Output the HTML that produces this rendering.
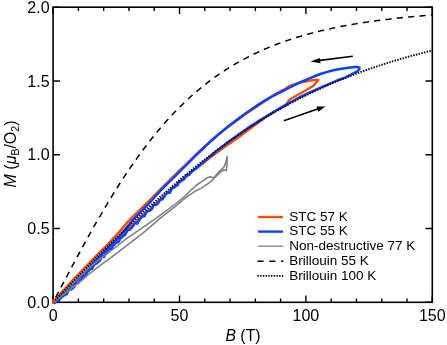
<!DOCTYPE html>
<html><head><meta charset="utf-8"><style>
html,body{margin:0;padding:0;background:#fff;}
svg{display:block}
text{font-family:"Liberation Sans",sans-serif;font-size:16px;fill:#000}
svg{will-change:transform;opacity:0.999}
.lg text{font-size:13.5px}
</style></head><body>
<svg width="447" height="345" viewBox="0 0 447 345">
<rect width="447" height="345" fill="#fff"/>
<g stroke="#000" stroke-width="1.6" fill="none">
<rect x="53.1" y="7.2" width="379.2" height="295.1"/>
</g>
<g stroke="#000" stroke-width="1.4" fill="none">
<path d="M53.10,302.30v-6.8M53.10,7.20v6.8"/><path d="M78.38,302.30v-3.8M78.38,7.20v3.8"/><path d="M103.66,302.30v-3.8M103.66,7.20v3.8"/><path d="M128.94,302.30v-3.8M128.94,7.20v3.8"/><path d="M154.22,302.30v-3.8M154.22,7.20v3.8"/><path d="M179.50,302.30v-6.8M179.50,7.20v6.8"/><path d="M204.78,302.30v-3.8M204.78,7.20v3.8"/><path d="M230.06,302.30v-3.8M230.06,7.20v3.8"/><path d="M255.34,302.30v-3.8M255.34,7.20v3.8"/><path d="M280.62,302.30v-3.8M280.62,7.20v3.8"/><path d="M305.90,302.30v-6.8M305.90,7.20v6.8"/><path d="M331.18,302.30v-3.8M331.18,7.20v3.8"/><path d="M356.46,302.30v-3.8M356.46,7.20v3.8"/><path d="M381.74,302.30v-3.8M381.74,7.20v3.8"/><path d="M407.02,302.30v-3.8M407.02,7.20v3.8"/><path d="M432.30,302.30v-6.8M432.30,7.20v6.8"/><path d="M53.10,302.30h6.8M432.30,302.30h-6.8"/><path d="M53.10,228.53h6.8M432.30,228.53h-6.8"/><path d="M53.10,154.75h6.8M432.30,154.75h-6.8"/><path d="M53.10,80.97h6.8M432.30,80.97h-6.8"/><path d="M53.10,7.20h6.8M432.30,7.20h-6.8"/>
</g>
<g fill="none" stroke-linejoin="round" stroke-linecap="round">
<path d="M53.1,302.3 L53.8,301.4 L54.9,300.2 L56.0,298.9 L57.0,297.8 L58.0,296.6 L59.0,295.5 L60.0,294.3 L61.0,293.2 L62.0,292.0 L63.0,290.9 L64.0,289.8 L65.0,288.8 L66.0,287.7 L67.0,286.6 L68.0,285.5 L69.0,284.4 L70.0,283.3 L71.0,282.2 L72.0,281.2 L73.0,280.1 L74.0,279.0 L75.0,277.9 L76.0,276.9 L77.0,275.8 L78.0,274.8 L79.0,273.7 L80.0,272.7 L81.0,271.6 L82.0,270.6 L83.0,269.6 L84.0,268.5 L85.0,267.5 L86.0,266.5 L87.0,265.4 L88.0,264.4 L89.0,263.3 L90.0,262.3 L91.0,261.3 L92.0,260.3 L93.0,259.2 L94.0,258.2 L95.0,257.2 L96.0,256.2 L97.0,255.1 L98.0,254.1 L99.0,253.1 L100.0,252.1 L101.0,251.1 L102.0,250.1 L103.0,249.1 L104.0,248.1 L105.0,247.1 L106.0,246.1 L107.0,245.1 L108.0,244.1 L109.0,243.0 L110.0,241.9 L111.0,240.8 L112.0,239.8 L113.0,238.7 L114.0,237.6 L115.0,236.6 L116.0,235.5 L117.0,234.3 L118.0,233.2 L119.0,232.1 L120.0,230.9 L121.0,229.8 L122.0,228.6 L123.0,227.5 L124.0,226.3 L125.0,225.1 L125.7,224.3 L126.3,223.5 L128.0,221.7 L131.3,218.4 L135.5,214.2 L140.0,209.8 L144.7,205.2 L149.6,200.4 L153.8,196.2 L156.8,193.2 L159.1,190.9 L161.5,188.5 L164.0,186.0 L166.6,183.4 L170.0,180.0 L174.9,175.2 L180.5,169.7 L186.0,164.4 L190.7,159.8 L195.1,155.5 L199.9,150.9 L205.5,145.7 L211.5,140.4 L217.0,135.6 L221.6,131.9 L225.7,128.8 L230.0,125.6 L234.7,122.1 L239.6,118.4 L245.0,114.5 L251.6,109.9 L258.7,105.1 L264.8,101.0 L268.9,98.2 L272.0,96.3 L275.0,94.4 L278.5,92.4 L282.0,90.6 L285.0,89.0 L286.9,87.8 L288.1,86.9 L290.0,86.0 L293.0,84.8 L296.6,83.6 L300.0,82.6 L302.9,81.9 L305.6,81.4 L308.0,81.0 L310.2,80.6 L312.2,80.2 L314.0,80.0 L315.7,80.0 L317.2,80.0 L318.2,80.1" stroke="#ff4c00" stroke-width="2.5"/>
<path d="M318.2,80.1 L317.7,80.8 L316.9,81.7 L316.0,82.8 L315.2,83.8 L314.3,84.9 L312.6,86.3 L309.7,88.1 L306.0,90.2 L302.5,92.2 L299.4,93.9 L296.5,95.6 L294.0,97.0 L292.0,98.1 L290.5,99.1 L289.0,100.3 L287.6,102.1 L286.2,104.1 L285.0,105.7 L283.9,106.5 L283.0,106.9 L282.0,107.4 L281.0,107.9 L280.0,108.5 L279.0,109.1 L278.0,109.7 L277.0,110.3 L276.0,110.9 L275.0,111.5 L274.0,112.1 L273.0,112.7 L272.0,113.3 L271.0,113.9 L270.0,114.5 L269.0,115.1 L268.0,115.7 L267.0,116.3 L266.0,116.9 L265.0,117.6 L264.0,118.3 L263.0,119.0 L262.0,119.8 L261.0,120.5 L260.0,121.3 L259.0,122.0 L258.0,122.8 L257.0,123.5 L256.0,124.3 L255.0,125.0 L254.0,125.8 L253.0,126.5 L252.0,127.2 L251.0,128.0 L250.0,128.7 L249.0,129.5 L248.0,130.2 L247.0,131.0 L246.0,131.7 L245.0,132.5 L244.0,133.2 L243.0,134.0 L242.0,134.7 L241.0,135.5 L240.0,136.3 L239.0,137.0 L238.0,137.6 L237.0,138.3 L236.0,139.0 L235.0,139.7 L234.0,140.4 L233.0,141.1 L232.0,141.8 L231.0,142.5 L230.0,143.2 L229.0,143.9 L228.0,144.6 L227.0,145.3 L226.0,146.0 L225.0,146.7 L224.0,147.4 L223.0,148.2 L222.0,148.9 L221.0,149.6 L220.0,150.4 L219.0,151.1 L218.0,151.8 L217.0,152.6 L216.0,153.3 L215.0,154.1 L214.0,154.8 L213.0,155.6 L212.0,156.3 L211.0,157.1 L210.0,157.8 L209.0,158.6 L208.0,159.4 L207.0,160.1 L206.0,160.9 L205.0,161.7 L204.0,162.5 L203.0,163.3 L202.0,164.0 L201.0,164.8 L200.0,165.6 L199.0,166.4 L198.0,167.1 L197.0,167.9 L196.0,168.6 L195.0,169.4 L194.0,170.2 L193.0,170.9 L192.0,171.7 L191.0,172.5 L190.0,173.3 L189.0,174.1 L188.0,174.8 L187.0,175.6 L186.0,176.4 L185.0,177.2 L184.0,178.1 L183.0,178.9 L182.0,179.8 L181.0,180.7 L180.0,181.5 L179.0,182.4 L178.0,183.3 L177.0,184.2 L176.0,185.0 L175.0,185.9 L174.0,186.8 L173.0,187.7 L172.0,188.6 L171.0,189.5 L170.0,190.4 L169.0,191.3 L168.0,192.2 L167.0,193.1 L166.0,194.0 L165.0,194.9 L164.0,195.8 L163.0,196.7 L162.0,197.6 L161.0,198.6 L160.0,199.5 L159.0,200.4 L158.0,201.3 L157.0,202.3 L156.0,203.2 L155.0,204.1 L154.0,205.1 L153.0,206.0 L152.0,206.9 L151.0,207.9 L150.0,208.8 L149.0,209.7 L148.0,210.6 L147.0,211.5 L146.0,212.5 L145.0,213.4 L144.0,214.3 L143.0,215.2 L142.0,216.1 L141.0,217.0 L140.0,218.0 L139.0,218.9 L138.0,219.8 L137.0,220.7 L136.0,221.7 L135.0,222.6 L134.0,223.5 L133.0,224.5 L132.0,225.4 L131.0,226.4 L130.0,227.3 L129.0,228.2 L128.0,229.2 L127.0,230.1 L126.0,231.1 L125.0,232.0 L124.0,233.0 L123.0,234.0 L122.0,234.9 L121.0,235.9 L120.0,236.8 L119.0,237.8 L118.0,238.8 L117.0,239.7 L116.0,240.7 L115.0,241.7 L114.0,242.7 L113.0,243.6 L112.0,244.6 L111.0,245.6 L110.0,246.6 L109.0,247.6 L108.0,248.5 L107.0,249.5 L106.0,250.5 L105.0,251.5 L104.0,252.5 L103.0,253.5 L102.0,254.5 L101.0,255.5 L100.0,256.5 L99.0,257.5 L98.0,258.5 L97.0,259.4 L96.0,260.5 L95.0,261.5 L94.0,262.5 L93.0,263.5 L92.0,264.5 L91.0,265.5 L90.0,266.6 L89.0,267.6 L88.0,268.6 L87.0,269.6 L86.0,270.7 L85.0,271.7 L84.0,272.7 L83.0,273.7 L82.0,274.8 L81.0,275.8 L80.0,276.8 L79.0,277.9 L78.0,278.9 L77.0,279.9 L76.0,281.0 L75.0,282.0 L74.0,283.0 L73.0,284.1 L72.0,285.1 L71.0,286.2 L70.0,287.2 L69.0,288.2 L68.0,289.3 L67.0,290.3 L66.0,291.4 L65.0,292.3 L64.0,293.2 L63.0,294.1 L62.0,294.9 L61.0,295.7 L60.0,296.6 L59.0,297.4 L58.1,298.2 L57.0,299.1 L55.6,300.2 L54.1,301.4 L53.1,302.3" stroke="#ff4c00" stroke-width="2.3"/>
<path d="M53.1,302.3 L53.8,301.9 L54.9,301.3 L56.0,300.6 L57.0,299.8 L58.0,298.9 L59.0,298.0 L60.0,297.0 L61.0,296.0 L62.0,295.0 L63.0,294.1 L64.0,293.1 L65.0,292.1 L66.0,291.1 L67.0,290.1 L68.0,289.1 L69.0,288.1 L70.0,287.1 L71.0,286.1 L72.0,285.1 L73.0,284.1 L74.0,283.1 L75.0,282.1 L76.0,281.1 L77.0,280.1 L78.0,279.1 L79.0,278.0 L80.0,277.0 L81.0,276.0 L82.0,275.0 L83.0,274.0 L84.0,273.0 L85.0,271.9 L86.0,270.9 L87.0,269.9 L88.0,268.9 L89.0,267.8 L90.0,266.8 L91.0,265.7 L92.0,264.6 L93.0,263.6 L94.0,262.5 L95.0,261.5 L96.0,260.4 L97.0,259.4 L98.0,258.3 L99.0,257.3 L100.0,256.3 L101.0,255.2 L102.0,254.2 L103.0,253.1 L104.0,252.1 L105.0,251.0 L106.0,250.0 L107.0,249.0 L108.0,247.9 L109.0,246.9 L110.0,245.9 L111.0,244.8 L112.0,243.8 L113.0,242.8 L114.0,241.7 L115.0,240.7 L116.0,239.7 L117.0,238.6 L118.0,237.6 L119.0,236.6 L120.0,235.5 L121.0,234.4 L122.0,233.2 L123.0,232.1 L124.0,230.9 L125.0,229.7 L126.0,228.5 L127.0,227.2 L128.0,225.9 L129.0,224.7 L130.0,223.4 L131.0,222.2 L132.0,221.0 L133.0,219.9 L134.0,218.8 L135.0,217.7 L136.0,216.7 L137.0,215.6 L138.0,214.6 L139.0,213.6 L140.0,212.6 L141.0,211.5 L142.0,210.5 L143.0,209.5 L144.0,208.5 L145.0,207.5 L146.0,206.5 L146.7,205.9 L147.4,205.2 L149.0,203.5 L152.1,200.0 L156.1,195.5 L160.0,191.2 L163.2,187.9 L166.3,184.9 L170.0,181.2 L175.0,176.3 L180.6,170.7 L186.0,165.3 L190.7,160.6 L195.1,156.2 L199.9,151.5 L205.5,146.2 L211.5,140.7 L217.0,135.8 L221.6,131.9 L225.7,128.4 L230.0,125.0 L234.7,121.4 L239.6,117.7 L245.0,113.8 L251.2,109.5 L258.0,104.9 L264.8,100.6 L271.7,96.7 L278.6,93.1 L285.0,89.8 L290.3,87.1 L295.0,84.8 L300.0,82.5 L305.8,79.9 L311.9,77.3 L317.6,75.0 L322.7,73.3 L327.4,71.9 L331.4,70.8 L334.1,70.1 L336.1,69.7 L338.8,69.2 L343.3,68.5 L348.5,67.8 L352.6,67.3 L354.8,67.0 L356.0,67.0 L357.0,67.0 L358.0,67.2 L358.8,67.6 L359.3,67.8" stroke="#0a40ff" stroke-width="2.5"/>
<path d="M359.3,67.8 L359.2,69.6 L357.0,71.5 L353.8,73.2 L345.0,77.6 L337.5,80.3 L327.5,84.7 L320.0,87.8 L308.8,93.0 L300.0,97.2 L296.0,99.4 L292.0,101.5 L288.0,103.7 L284.0,105.9 L280.0,108.2 L276.0,110.5 L272.0,112.8 L268.0,115.2 L264.0,117.7 L260.0,120.1 L256.0,122.7 L252.0,125.3 L248.0,127.9 L244.0,130.7 L240.0,133.5 L236.0,136.4 L232.0,139.3 L228.0,142.3 L224.0,145.3 L220.0,148.4 L216.0,151.6 L212.0,154.9 L208.0,158.2 L206.0,159.9 L204.5,161.2 L203.0,162.5 L201.5,163.7 L200.0,165.1 L198.5,166.2 L197.0,167.5 L195.5,169.0 L194.0,169.5 L192.5,171.1 L191.0,172.0 L189.5,174.7 L188.0,175.5 L186.5,175.3 L185.0,178.2 L183.5,179.5 L182.0,180.5 L180.5,181.3 L179.0,182.0 L177.5,185.2 L176.0,185.7 L174.5,187.5 L173.0,187.5 L171.5,189.2 L170.0,192.7 L168.5,192.5 L167.0,193.2 L165.5,194.5 L164.0,197.1 L162.5,199.4 L161.0,199.1 L159.5,201.0 L158.0,203.0 L156.5,204.8 L155.0,205.0 L153.5,204.7 L152.0,208.8 L150.5,210.2 L149.0,210.8 L147.5,211.3 L146.0,212.9 L144.5,216.3 L143.0,216.3 L141.5,217.3 L140.0,219.0 L138.5,221.4 L137.0,223.7 L135.5,222.8 L134.0,224.3 L132.5,226.8 L131.0,228.5 L129.5,229.8 L128.0,229.9 L126.5,232.1 L125.0,234.8 L123.5,235.6 L122.0,237.4 L120.5,238.0 L119.0,241.2 L117.5,242.5 L116.0,242.6 L114.5,244.5 L113.0,245.6 L111.5,249.3 L110.0,248.9 L108.5,249.8 L107.0,251.9 L105.5,253.8 L104.0,257.0 L102.5,255.9 L101.0,258.4 L99.5,261.1 L98.0,262.3 L96.5,263.6 L95.0,263.9 L93.5,266.1 L92.0,268.8 L90.5,269.0 L89.0,270.6 L87.5,271.8 L86.0,274.7 L84.5,276.5 L83.0,276.0 L81.5,279.4 L80.0,280.5 L78.5,282.7 L77.0,283.3 L75.5,283.1 L74.0,287.2 L72.5,288.4 L71.0,289.5 L69.5,289.3 L68.0,291.5 L66.5,294.4 L65.0,294.4 L63.5,296.0 L62.0,296.6 L60.5,298.3 L59.0,300.3 L57.5,300.3 L54.6,303.1" stroke="#0a40ff" stroke-width="2.5"/>
<path d="M53.1,302.3 L70.0,286.2 L82.3,274.1 L88.0,268.9 L94.0,263.8 L100.8,258.2 L110.0,251.5 L127.5,237.8 L146.0,225.4 L160.0,215.3 L176.0,203.5 L186.0,195.2 L190.0,190.8 L196.0,185.5 L202.5,181.2 L207.0,178.0 L210.0,176.8 L213.8,177.8 L217.0,174.0 L220.0,170.6 L223.8,167.4 L225.5,163.0 L227.3,156.8" stroke="#808080" stroke-width="1.55"/>
<path d="M227.3,156.8 L227.0,164.0 L226.3,170.6 L223.8,170.0 L220.0,172.4 L216.0,176.5 L213.2,179.3 L208.8,183.1 L201.3,188.1 L195.0,191.3 L186.0,197.4 L176.0,205.9 L160.0,218.4 L146.0,230.6 L135.7,238.6 L110.0,258.3 L101.3,264.6 L88.0,274.9 L81.7,280.3 L66.0,292.7 L55.0,301.5" stroke="#808080" stroke-width="1.55"/>
</g>
<g fill="none" stroke="#000">
<path d="M432.3,14.9 L430.4,15.1 L428.5,15.2 L426.6,15.4 L424.7,15.6 L422.8,15.7 L420.9,15.9 L419.0,16.0 L417.1,16.2 L415.2,16.4 L413.2,16.6 L411.3,16.7 L409.4,16.9 L407.5,17.1 L405.6,17.3 L403.7,17.5 L401.8,17.7 L399.9,17.9 L398.0,18.1 L396.1,18.3 L394.2,18.5 L392.3,18.7 L390.4,18.9 L388.5,19.2 L386.6,19.4 L384.7,19.6 L382.8,19.9 L380.9,20.1 L378.9,20.4 L377.0,20.6 L375.1,20.9 L373.2,21.1 L371.3,21.4 L369.4,21.7 L367.5,22.0 L365.6,22.2 L363.7,22.5 L361.8,22.8 L359.9,23.1 L358.0,23.4 L356.1,23.8 L354.2,24.1 L352.3,24.4 L350.4,24.7 L348.5,25.1 L346.6,25.4 L344.7,25.8 L342.7,26.1 L340.8,26.5 L338.9,26.9 L337.0,27.3 L335.1,27.7 L333.2,28.0 L331.3,28.5 L329.4,28.9 L327.5,29.3 L325.6,29.7 L323.7,30.2 L321.8,30.6 L319.9,31.1 L318.0,31.5 L316.1,32.0 L314.2,32.5 L312.3,33.0 L310.4,33.5 L308.4,34.0 L306.5,34.5 L304.6,35.1 L302.7,35.6 L300.8,36.2 L298.9,36.7 L297.0,37.3 L295.1,37.9 L293.2,38.5 L291.3,39.1 L289.4,39.8 L287.5,40.4 L285.6,41.1 L283.7,41.7 L281.8,42.4 L279.9,43.1 L278.0,43.8 L276.1,44.5 L274.2,45.3 L272.2,46.0 L270.3,46.8 L268.4,47.6 L266.5,48.4 L264.6,49.2 L262.7,50.0 L260.8,50.9 L258.9,51.7 L257.0,52.6 L255.1,53.5 L253.2,54.4 L251.3,55.4 L249.4,56.3 L247.5,57.3 L245.6,58.3 L243.7,59.3 L241.8,60.3 L239.9,61.4 L237.9,62.4 L236.0,63.5 L234.1,64.6 L232.2,65.8 L230.3,66.9 L228.4,68.1 L226.5,69.3 L224.6,70.5 L222.7,71.8 L220.8,73.1 L218.9,74.4 L217.0,75.7 L215.1,77.0 L213.2,78.4 L211.3,79.8 L209.4,81.2 L207.5,82.7 L205.6,84.2 L203.7,85.7 L201.7,87.2 L199.8,88.8 L197.9,90.4 L196.0,92.0 L194.1,93.6 L192.2,95.3 L190.3,97.0 L188.4,98.8 L186.5,100.5 L184.6,102.3 L182.7,104.2 L180.8,106.0 L178.9,107.9 L177.0,109.8 L175.1,111.8 L173.2,113.8 L171.3,115.8 L169.4,117.9 L167.4,120.0 L165.5,122.1 L163.6,124.3 L161.7,126.5 L159.8,128.7 L157.9,131.0 L156.0,133.3 L154.1,135.6 L152.2,138.0 L150.3,140.4 L148.4,142.8 L146.5,145.3 L144.6,147.8 L142.7,150.3 L140.8,152.9 L138.9,155.5 L137.0,158.2 L135.1,160.9 L133.2,163.6 L131.2,166.3 L129.3,169.1 L127.4,171.9 L125.5,174.8 L123.6,177.7 L121.7,180.6 L119.8,183.5 L117.9,186.5 L116.0,189.5 L114.1,192.6 L112.2,195.7 L110.3,198.8 L108.4,201.9 L106.5,205.1 L104.6,208.3 L102.7,211.5 L100.8,214.8 L98.9,218.0 L96.9,221.3 L95.0,224.7 L93.1,228.0 L91.2,231.4 L89.3,234.8 L87.4,238.2 L85.5,241.7 L83.6,245.1 L81.7,248.6 L79.8,252.1 L77.9,255.6 L76.0,259.1 L74.1,262.7 L72.2,266.2 L70.3,269.8 L68.4,273.4 L66.5,277.0 L64.6,280.6 L62.7,284.2 L60.7,287.8 L58.8,291.4 L56.9,295.0 L55.0,298.6 L53.1,302.3" stroke-width="1.5" stroke-dasharray="6.2,5.21" stroke-dashoffset="4.7"/>
<path d="M53.1,302.3 L55.0,300.3 L56.9,298.3 L58.8,296.3 L60.7,294.3 L62.7,292.3 L64.6,290.4 L66.5,288.4 L68.4,286.4 L70.3,284.4 L72.2,282.4 L74.1,280.5 L76.0,278.5 L77.9,276.5 L79.8,274.5 L81.7,272.6 L83.6,270.6 L85.5,268.7 L87.4,266.7 L89.3,264.7 L91.2,262.8 L93.1,260.8 L95.0,258.9 L96.9,257.0 L98.9,255.1 L100.8,253.2 L102.7,251.3 L104.6,249.4 L106.5,247.5 L108.4,245.7 L110.3,243.8 L112.2,241.9 L114.1,240.1 L116.0,238.2 L117.9,236.4 L119.8,234.5 L121.7,232.7 L123.6,230.9 L125.5,229.0 L127.4,227.2 L129.3,225.4 L131.2,223.6 L133.2,221.8 L135.1,220.0 L137.0,218.3 L138.9,216.5 L140.8,214.7 L142.7,213.0 L144.6,211.2 L146.5,209.5 L148.4,207.8 L150.3,206.0 L152.2,204.3 L154.1,202.5 L156.0,200.8 L157.9,199.1 L159.8,197.3 L161.7,195.6 L163.6,193.9 L165.5,192.2 L167.4,190.5 L169.4,188.8 L171.3,187.2 L173.2,185.5 L175.1,183.9 L177.0,182.2 L178.9,180.6 L180.8,179.0 L182.7,177.3 L184.6,175.7 L186.5,174.2 L188.4,172.6 L190.3,171.0 L192.2,169.5 L194.1,167.9 L196.0,166.4 L197.9,164.9 L199.8,163.3 L201.7,161.8 L203.7,160.3 L205.6,158.9 L207.5,157.4 L209.4,155.9 L211.3,154.5 L213.2,153.0 L215.1,151.6 L217.0,150.2 L218.9,148.8 L220.8,147.4 L222.7,146.0 L224.6,144.6 L226.5,143.2 L228.4,141.9 L230.3,140.5 L232.2,139.2 L234.1,137.9 L236.0,136.6 L237.9,135.3 L239.9,134.0 L241.8,132.7 L243.7,131.4 L245.6,130.2 L247.5,128.9 L249.4,127.7 L251.3,126.4 L253.2,125.2 L255.1,124.0 L257.0,122.8 L258.9,121.6 L260.8,120.4 L262.7,119.2 L264.6,118.1 L266.5,116.9 L268.4,115.8 L270.3,114.6 L272.2,113.5 L274.2,112.4 L276.1,111.3 L278.0,110.2 L279.9,109.1 L281.8,108.0 L283.7,107.0 L285.6,105.9 L287.5,104.9 L289.4,103.9 L291.3,102.8 L293.2,101.8 L295.1,100.8 L297.0,99.8 L298.9,98.9 L300.8,97.9 L302.7,96.9 L304.6,96.0 L306.5,95.1 L308.4,94.1 L310.4,93.2 L312.3,92.3 L314.2,91.4 L316.1,90.5 L318.0,89.7 L319.9,88.8 L321.8,87.9 L323.7,87.1 L325.6,86.2 L327.5,85.4 L329.4,84.6 L331.3,83.7 L333.2,82.9 L335.1,82.1 L337.0,81.3 L338.9,80.5 L340.8,79.7 L342.7,79.0 L344.7,78.2 L346.6,77.5 L348.5,76.7 L350.4,76.0 L352.3,75.2 L354.2,74.5 L356.1,73.8 L358.0,73.1 L359.9,72.4 L361.8,71.7 L363.7,71.0 L365.6,70.3 L367.5,69.6 L369.4,69.0 L371.3,68.3 L373.2,67.6 L375.1,67.0 L377.0,66.4 L378.9,65.7 L380.9,65.1 L382.8,64.5 L384.7,63.9 L386.6,63.3 L388.5,62.7 L390.4,62.1 L392.3,61.5 L394.2,60.9 L396.1,60.3 L398.0,59.8 L399.9,59.2 L401.8,58.6 L403.7,58.1 L405.6,57.5 L407.5,57.0 L409.4,56.5 L411.3,55.9 L413.2,55.4 L415.2,54.9 L417.1,54.4 L419.0,53.9 L420.9,53.4 L422.8,52.9 L424.7,52.4 L426.6,51.9 L428.5,51.4 L430.4,51.0 L432.3,50.5" stroke-width="1.9" stroke-dasharray="1.45,1.32"/>
<circle cx="53.7" cy="301.1" r="2.0" fill="#ff4c00" stroke="none"/>
</g>
<g stroke="#000" stroke-width="1.6" fill="#000">
<path d="M352.8,56.3L318,60.6" fill="none"/><path d="M310.5,61.6L319.8,57.9L320.6,63.3Z" stroke="none"/>
<path d="M283.8,120.7L319,108.6" fill="none"/><path d="M325.5,106.4L316.5,106.6L318.3,111.8Z" stroke="none"/>
</g>
<text x="53.1" y="321.3" text-anchor="middle">0</text><text x="179.5" y="321.3" text-anchor="middle">50</text><text x="305.9" y="321.3" text-anchor="middle">100</text><text x="432.3" y="321.3" text-anchor="middle">150</text><text x="49.6" y="307.9" text-anchor="end">0.0</text><text x="49.6" y="234.1" text-anchor="end">0.5</text><text x="49.6" y="160.3" text-anchor="end">1.0</text><text x="49.6" y="86.6" text-anchor="end">1.5</text><text x="49.6" y="12.8" text-anchor="end">2.0</text>
<text x="243" y="340.6" text-anchor="middle" style="font-size:15.8px"><tspan font-style="italic">B</tspan> (T)</text>
<text transform="translate(15.6,154) rotate(-90)" text-anchor="middle"><tspan font-style="italic">M</tspan> (<tspan font-style="italic">μ</tspan><tspan font-size="10.5" dy="3">B</tspan><tspan dy="-3">/O</tspan><tspan font-size="10.5" dy="3">2</tspan><tspan dy="-3">)</tspan></text>
<g class="lg">
<path d="M258,217.0h25" stroke="#ff4c00" stroke-width="2.4"/>
<path d="M258,231.6h25" stroke="#0a40ff" stroke-width="2.4"/>
<path d="M258,246.2h25" stroke="#808080" stroke-width="1.3"/>
<path d="M257.5,261.2h26" stroke="#000" stroke-width="1.45" stroke-dasharray="6.1,5.7"/>
<path d="M257.4,275.9h26" stroke="#000" stroke-width="1.6" stroke-dasharray="1.4,1.32"/>
<text x="289.3" y="220.6">STC 57 K</text>
<text x="289.3" y="235.2">STC 55 K</text>
<text x="289.3" y="249.9">Non-destructive 77 K</text>
<text x="289.3" y="264.6">Brillouin 55 K</text>
<text x="289.3" y="279.5">Brillouin 100 K</text>
</g>
</svg>
</body></html>
